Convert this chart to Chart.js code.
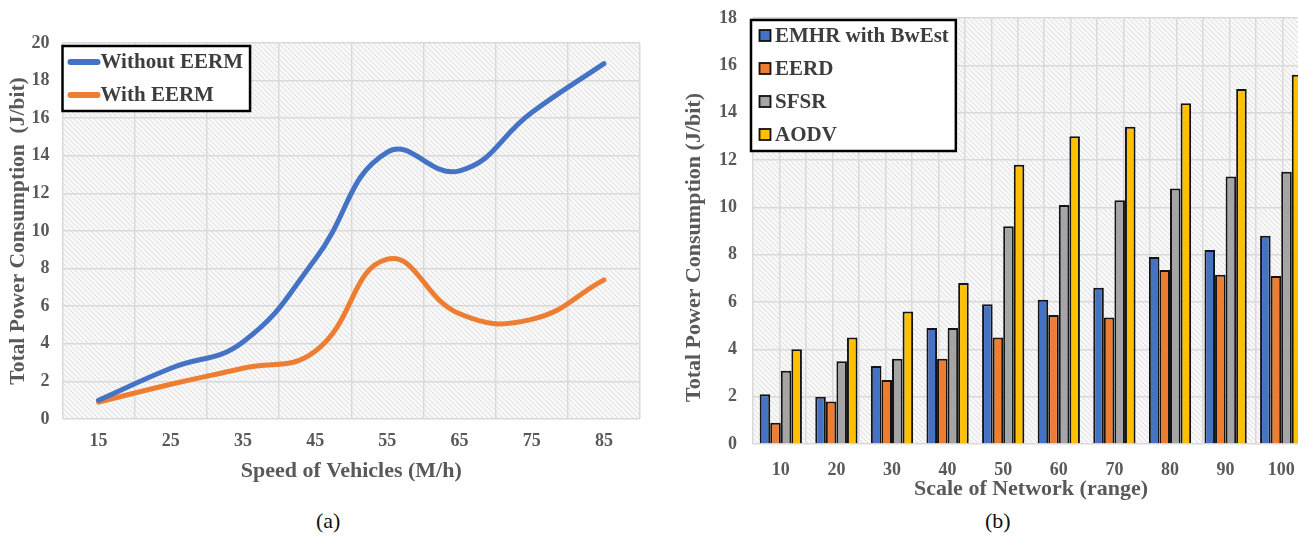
<!DOCTYPE html>
<html>
<head>
<meta charset="utf-8">
<script src="https://cdn.jsdelivr.net/npm/chart.js@4.4.1/dist/chart.umd.min.js"></script>
<style>
  html, body { margin: 0; padding: 0; background: #fff; overflow: hidden; }
  body { width: 1298px; height: 537px; position: relative; }
  .wrap { position: absolute; top: 0; }
  .cap { position: absolute; top: 508px; font: 22px "Liberation Serif", serif; color: #111; }
</style>
</head>
<body>
<div class="wrap" style="left:0"><canvas id="lineChart" width="650" height="492"></canvas></div>
<div class="wrap" style="left:650px"><canvas id="barChart" width="665" height="503"></canvas></div>
<div class="cap" style="left:316px">(a)</div>
<div class="cap" style="left:985px">(b)</div>

<script>
// (a) speed of vehicles
const speeds = ['15', '25', '35', '45', '55', '65', '75', '85']
const withoutEERM = [1.0, 2.7, 4.1, 8.5, 14.2, 13.2, 16.3, 18.9]
const withEERM = [0.9, 1.85, 2.7, 3.6, 8.5, 5.6, 5.3, 7.4]

// (b) scale of network
const ranges = ['10', '20', '30', '40', '50', '60', '70', '80', '90', '100']
const emhr = [2.1, 2.0, 3.3, 4.9, 5.9, 6.1, 6.6, 7.9, 8.2, 8.8]
const eerd = [0.9, 1.8, 2.7, 3.6, 4.5, 5.45, 5.35, 7.35, 7.15, 7.1]
const sfsr = [3.1, 3.5, 3.6, 4.9, 9.2, 10.1, 10.3, 10.8, 11.3, 11.5]
const aodv = [4.0, 4.5, 5.6, 6.8, 11.8, 13.0, 13.4, 14.4, 15.0, 15.6]

const serif = '"Liberation Serif", serif'
const tickGray = '#595959'
const gridGray = '#d9d9d9'
const tickFont = { family: serif, size: 18, weight: 'bold' }
const yTitleFont = { family: serif, size: 21.5, weight: 'bold', lineHeight: 1 }
const xTitleFont = { family: serif, size: 22, weight: 'bold' }

// light diagonal hatch like the excel plot area
function hatch() {
  const c = document.createElement('canvas')
  c.width = 5
  c.height = 5
  const g = c.getContext('2d')
  g.fillStyle = '#f8f8f8'
  g.fillRect(0, 0, 5, 5)
  g.strokeStyle = '#dedede'
  g.lineWidth = 1
  g.beginPath()
  g.moveTo(-1, -1)
  g.lineTo(6, 6)
  g.moveTo(-1, 4)
  g.lineTo(1, 6)
  g.moveTo(4, -1)
  g.lineTo(6, 1)
  g.stroke()
  return g.createPattern(c, 'repeat')
}

const plotBg = {
  id: 'plotBg',
  beforeDraw(chart) {
    const a = chart.chartArea
    const ctx = chart.ctx
    ctx.save()
    ctx.fillStyle = hatch()
    ctx.fillRect(a.left, a.top, a.right - a.left, a.bottom - a.top)
    ctx.restore()
  }
}

// boxed legend in the top left corner of the plot
const legendBox = {
  id: 'legendBox',
  afterDraw(chart, args, o) {
    const a = chart.chartArea
    const ctx = chart.ctx
    const sets = chart.data.datasets
    ctx.save()
    ctx.font = 'bold ' + o.fontSize + 'px ' + serif
    let tw = 0
    for (const d of sets) tw = Math.max(tw, ctx.measureText(d.label).width)
    const x = a.left + o.dx, y = a.top + o.dy
    const w = o.textX + tw + 7
    const h = o.first * 2 + o.row * (sets.length - 1)
    ctx.fillStyle = '#fff'
    ctx.fillRect(x, y, w, h)
    ctx.strokeStyle = '#000'
    ctx.lineWidth = 2.5
    ctx.strokeRect(x, y, w, h)
    sets.forEach((d, i) => {
      const cy = y + o.first + i * o.row
      if (o.kind === 'line') {
        ctx.strokeStyle = d.borderColor
        ctx.lineWidth = 6
        ctx.lineCap = 'round'
        ctx.beginPath()
        ctx.moveTo(x + 8, cy)
        ctx.lineTo(x + 35, cy)
        ctx.stroke()
      } else {
        ctx.fillStyle = d.backgroundColor
        ctx.fillRect(x + 8.5, cy - 6, 11, 11)
        ctx.strokeStyle = '#111'
        ctx.lineWidth = 1.8
        ctx.strokeRect(x + 8.5, cy - 6, 11, 11)
      }
      ctx.fillStyle = '#3d3d3d'
      ctx.textBaseline = 'middle'
      ctx.fillText(d.label, x + o.textX, cy + 1)
    })
    ctx.restore()
  }
}

new Chart(document.getElementById('lineChart'), {
  type: 'line',
  data: {
    labels: speeds,
    datasets: [
      { label: 'Without EERM', data: withoutEERM, borderColor: '#4472C4', backgroundColor: '#4472C4' },
      { label: 'With EERM', data: withEERM, borderColor: '#ED7D31', backgroundColor: '#ED7D31' }
    ]
  },
  options: {
    responsive: false,
    animation: false,
    devicePixelRatio: 1,
    layout: { padding: { top: 43, right: 10, left: 8, bottom: 7 } },
    elements: {
      line: { borderWidth: 5, tension: 0.45, borderCapStyle: 'round' },
      point: { radius: 0 }
    },
    scales: {
      x: {
        offset: true,
        grid: { offset: true, color: gridGray, lineWidth: 1.5, drawTicks: false },
        border: { display: false },
        ticks: { color: tickGray, font: tickFont, padding: 12 },
        title: { display: true, text: 'Speed of Vehicles (M/h)', color: tickGray, font: xTitleFont, padding: { top: -6, bottom: 0 } }
      },
      y: {
        min: 0,
        max: 20,
        ticks: { stepSize: 2, color: tickGray, font: tickFont, padding: 13 },
        grid: { color: gridGray, lineWidth: 1.5, drawTicks: false },
        border: { display: false },
        title: { display: true, text: 'Total Power Consumption  (J/bit)', color: tickGray, font: yTitleFont, padding: { top: 0, bottom: -11 } }
      }
    },
    plugins: {
      legend: { display: false },
      legendBox: { kind: 'line', fontSize: 21, dx: 0, dy: 3, first: 16, row: 33, textX: 38 },
      tooltip: { enabled: false }
    }
  },
  plugins: [plotBg, legendBox]
})

new Chart(document.getElementById('barChart'), {
  type: 'bar',
  data: {
    labels: ranges,
    datasets: [
      { label: 'EMHR with BwEst', data: emhr, backgroundColor: '#4472C4' },
      { label: 'EERD', data: eerd, backgroundColor: '#ED7D31' },
      { label: 'SFSR', data: sfsr, backgroundColor: '#A5A5A5' },
      { label: 'AODV', data: aodv, backgroundColor: '#FFC000' }
    ]
  },
  options: {
    responsive: false,
    animation: false,
    devicePixelRatio: 1,
    layout: { padding: { top: 18, right: 6, left: 33, bottom: 0 } },
    datasets: {
      bar: { borderColor: '#141414', borderWidth: 2, categoryPercentage: 0.76, barPercentage: 1 }
    },
    scales: {
      x: {
        grid: { display: false },
        border: { display: false },
        ticks: { color: tickGray, font: tickFont, padding: 8 },
        title: { display: true, text: 'Scale of Network (range)', color: tickGray, font: xTitleFont, padding: { top: -13, bottom: 0 } }
      },
      xg: {
        type: 'linear',
        position: 'bottom',
        min: -0.5,
        max: 9.5,
        ticks: { display: false, stepSize: 0.5 },
        grid: { color: gridGray, lineWidth: 1.5, drawTicks: false },
        border: { display: false }
      },
      y: {
        min: 0,
        max: 18,
        ticks: { stepSize: 2, color: tickGray, font: tickFont, padding: 6 },
        grid: { color: gridGray, lineWidth: 1.5, drawTicks: true, tickLength: 10, tickColor: 'rgba(0,0,0,0)' },
        border: { display: false },
        title: { display: true, text: 'Total Power Consumption (J/bit)      ', color: tickGray, font: { family: serif, size: 22, weight: 'bold', lineHeight: 1 }, padding: { top: 0, bottom: 8 } }
      }
    },
    plugins: {
      legend: { display: false },
      legendBox: { kind: 'bar', fontSize: 21, dx: -2, dy: 2, first: 16, row: 33, textX: 24 },
      tooltip: { enabled: false }
    }
  },
  plugins: [plotBg, legendBox]
})
</script>
</body>
</html>
